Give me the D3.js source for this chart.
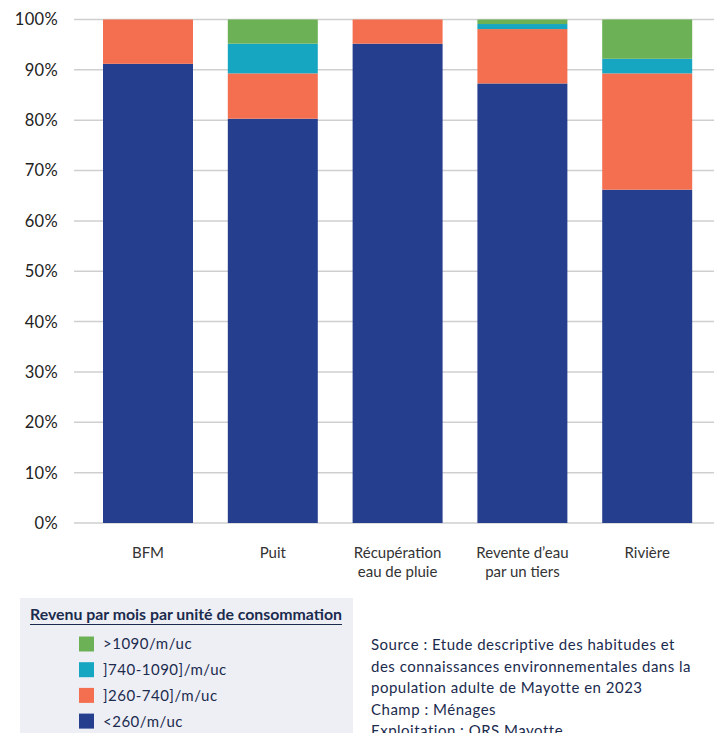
<!DOCTYPE html>
<html><head><meta charset="utf-8">
<script src="https://cdn.jsdelivr.net/npm/d3@7"></script>
<style>
body{margin:0;background:#fff;}
svg{display:block;font-family:"Lato","Noto Sans",sans-serif;}
</style></head>
<body><svg id="c" width="714" height="733"></svg>
<script>
const categories = ["BFM","Puit","Récupération\neau de pluie","Revente d’eau\npar un tiers","Rivière"];
const seriesNames = ["<260/m/uc","]260-740]/m/uc","]740-1090]/m/uc",">1090/m/uc"];
const lt260 = [91.2, 80.3, 95.2, 87.3, 66.2];
const s260_740 = [8.8, 9.0, 4.8, 10.8, 23.1];
const s740_1090 = [0, 5.9, 0, 1.0, 2.9];
const gt1090 = [0, 4.8, 0, 0.9, 7.8];
const yTicks = [0,10,20,30,40,50,60,70,80,90,100];
const colors = ["#253E8D","#F36F50","#17A6C1","#6CB155"];
const legendTitle = "Revenu par mois par unité de consommation";
const sourceLines = ["Source : Etude descriptive des habitudes et","des connaissances environnementales dans la","population adulte de Mayotte en 2023","Champ : Ménages","Exploitation : ORS Mayotte"];

const svg = d3.select("#c");
const series = [lt260, s260_740, s740_1090, gt1090];
const data = categories.map((c,i)=>{const o={cat:c}; seriesNames.forEach((s,k)=>o[s]=series[k][i]); return o;});
const stack = d3.stack().keys(seriesNames)(data);

const x = d3.scaleBand().domain(categories).range([85.6,709.6]).paddingInner(0.279).paddingOuter(0.1395);
const y = d3.scaleLinear().domain([0,100]).range([523,19.5]);

// gridlines
svg.append("g").selectAll("line").data(yTicks).join("line")
  .attr("x1",74).attr("x2",714).attr("y1",d=>y(d)).attr("y2",d=>y(d))
  .attr("stroke","#cfcfcf").attr("stroke-width",1.5);

// y labels
svg.append("g").selectAll("text").data(yTicks).join("text")
  .attr("x",58).attr("y",d=>y(d)).attr("dy","0.36em").attr("text-anchor","end")
  .attr("font-size",16.5).attr("letter-spacing","0.3px").attr("fill","#222").text(d=>d+"%");

// bars
svg.append("g").selectAll("g").data(stack).join("g").attr("fill",(d,i)=>colors[i])
  .selectAll("rect").data(d=>d).join("rect")
  .attr("x",d=>x(d.data.cat)).attr("width",x.bandwidth())
  .attr("y",d=>y(d[1])).attr("height",d=>y(d[0])-y(d[1]));

// x labels
const xl = svg.append("g").selectAll("text").data(categories).join("text")
  .attr("x",d=>x(d)+x.bandwidth()/2).attr("y",558).attr("text-anchor","middle")
  .attr("font-size",15).attr("fill","#333");
xl.selectAll("tspan").data(d=>d.split("\n")).join("tspan")
  .attr("x",function(){return d3.select(this.parentNode).attr("x");})
  .attr("dy",(d,i)=>i?"1.27em":0).text(d=>d);

// legend box
svg.append("rect").attr("x",20).attr("y",598).attr("width",333).attr("height",140).attr("fill","#EEEFF5");
svg.append("text").attr("x",30).attr("y",620).attr("font-size",15).attr("font-weight","bold")
  .attr("fill","#1B2B4E").attr("textLength",312).attr("lengthAdjust","spacingAndGlyphs").text(legendTitle);
svg.append("line").attr("x1",30).attr("x2",342).attr("y1",624.5).attr("y2",624.5).attr("stroke","#1B2B4E").attr("stroke-width",1);
const legOrder = [3,2,1,0];
const lg = svg.append("g").selectAll("g").data(legOrder).join("g")
  .attr("transform",(d,i)=>`translate(79,${644+i*25.7})`);
lg.append("rect").attr("x",0).attr("y",-7.5).attr("width",15).attr("height",15).attr("fill",d=>colors[d]);
lg.append("text").attr("x",24).attr("dy","0.36em").attr("font-size",15).attr("fill","#1B2B4E")
  .attr("letter-spacing","0.5px").text(d=>seriesNames[d]);

// source
svg.append("g").selectAll("text").data(sourceLines).join("text")
  .attr("x",371).attr("y",(d,i)=>650+i*21.5)
  .attr("font-size",15).attr("letter-spacing","0.5px").attr("fill","#1B2B4E").text(d=>d);
</script></body></html>
